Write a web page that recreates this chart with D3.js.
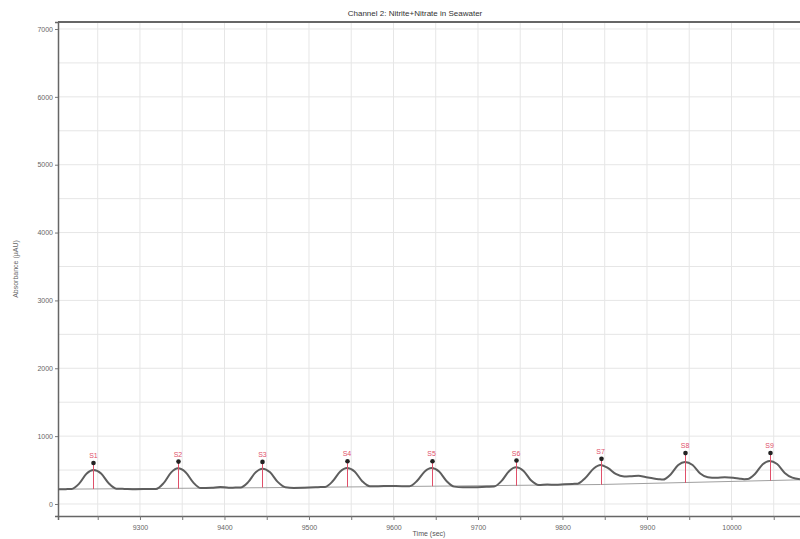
<!DOCTYPE html>
<html>
<head>
<meta charset="utf-8">
<script src="https://cdn.jsdelivr.net/npm/d3@7"></script>
<style>
  body { margin: 0; background: #fff; }
  svg { font-family: "Liberation Sans", Arial, sans-serif; }
</style>
</head>
<body>
<svg id="chart" width="800" height="539"></svg>
<script>
// trace: [time (sec), absorbance (uAU)]
var trace = [
  [9203,216],[9212,219],[9219,221],[9228,300],[9237,450],[9245,500],[9254,448],[9263,305],[9272,226],
  [9282,222],[9295,218],[9308,220],
  [9319,222],[9328,308],[9337,466],[9345,525],[9354,468],[9363,318],[9372,234],
  [9385,240],[9395,250],[9405,240],[9413,242],
  [9419,243],[9428,322],[9437,468],[9445,520],[9454,466],[9463,326],[9472,248],
  [9482,236],[9495,238],[9508,245],[9514,250],
  [9519,252],[9528,334],[9537,478],[9545,530],[9554,478],[9563,336],[9572,262],
  [9582,262],[9595,266],[9610,262],
  [9619,262],[9628,342],[9637,480],[9645,530],[9654,478],[9663,336],[9672,256],
  [9682,248],[9695,248],[9710,254],
  [9719,257],[9728,340],[9737,487],[9745,540],[9754,487],[9763,345],[9772,280],
  [9782,286],[9792,282],[9802,290],[9812,296],
  [9818,299],[9827,384],[9837,524],[9845,575],[9854,528],[9863,442],
  [9873,405],[9882,410],[9890,416],[9898,398],[9908,376],[9914,366],
  [9919,360],[9928,436],[9937,574],[9945,620],[9954,574],[9963,450],[9972,394],
  [9982,386],[9992,394],[10002,388],[10010,372],[10015,366],
  [10019,368],[10028,446],[10037,586],[10045,635],[10054,588],[10063,458],[10072,388],[10081,366]
];

// baseline drawn under the peaks
var baseline = [[9203,218],[9445,240],[9645,262],[9845,287],[10081,356]];

// detected peaks
var peakNames = ["S1","S2","S3","S4","S5","S6","S7","S8","S9"];
var peakTimes = [9245, 9345, 9445, 9545, 9645, 9745, 9845, 9945, 10045];
var peakBase = [221, 224, 241, 251, 262, 268, 284, 310, 345];
var peakMark = [605, 625, 620, 630, 630, 640, 665, 750, 752];

var yTicks = [0, 1000, 2000, 3000, 4000, 5000, 6000, 7000];
var xTicks = [9300, 9400, 9500, 9600, 9700, 9800, 9900, 10000];

var svg = d3.select("#chart"),
  margin = {top: 22, left: 58, bottom: 23, right: -5},
  width = +svg.attr("width") - margin.left - margin.right,
  height = +svg.attr("height") - margin.top - margin.bottom;

var x = d3.scaleLinear().domain([9203, 10087]).range([0, width]);
var y = d3.scaleLinear().domain([-177, 7103]).range([height, 0]);

var g = svg.append("g").attr("transform", "translate(" + margin.left + "," + margin.top + ")");

// grid
g.append("g")
  .selectAll("line")
  .data(d3.range(9250, 10087, 50))
  .enter().append("line")
  .attr("x1", d => x(d)).attr("x2", d => x(d))
  .attr("y1", 0).attr("y2", height)
  .attr("stroke", "#e6e6e6").attr("stroke-width", 1);

g.append("g")
  .selectAll("line")
  .data(d3.range(0, 7001, 500))
  .enter().append("line")
  .attr("x1", 0).attr("x2", width)
  .attr("y1", d => y(d)).attr("y2", d => y(d))
  .attr("stroke", "#e6e6e6").attr("stroke-width", 1);

// axes
var yAxis = g.append("g")
  .call(d3.axisLeft(y).tickValues(yTicks).tickSize(3).tickPadding(2).tickFormat(d3.format("d")));
var xAxis = g.append("g")
  .attr("transform", "translate(0," + height + ")")
  .call(d3.axisBottom(x).tickValues(d3.range(9250, 10087, 50)).tickSize(4).tickPadding(5)
    .tickFormat(d => xTicks.indexOf(d) >= 0 ? d : ""));

[yAxis, xAxis].forEach(function(a){
  a.select(".domain").attr("stroke", "#666").attr("stroke-width", 1.5);
  a.selectAll(".tick line").attr("stroke", "#777");
  a.selectAll("text").attr("fill", "#666").style("font-size", "7px");
});

// top frame
g.append("line")
  .attr("x1", 0).attr("x2", width).attr("y1", 0).attr("y2", 0)
  .attr("stroke", "#666").attr("stroke-width", 2);

// baseline
g.append("path")
  .datum(baseline)
  .attr("d", d3.line().x(d => x(d[0])).y(d => y(d[1])))
  .attr("fill", "none")
  .attr("stroke", "#a0a0a0")
  .attr("stroke-width", 1);

// trace
g.append("path")
  .datum(trace)
  .attr("d", d3.line().x(d => x(d[0])).y(d => y(d[1])).curve(d3.curveMonotoneX))
  .attr("fill", "none")
  .attr("stroke", "#5e5e5e")
  .attr("stroke-width", 2);

// red peak lines
g.append("g")
  .selectAll("line")
  .data(peakTimes)
  .enter().append("line")
  .attr("x1", d => Math.round(x(d)) + 0.5).attr("x2", d => Math.round(x(d)) + 0.5)
  .attr("y1", (d, i) => y(peakBase[i]))
  .attr("y2", (d, i) => y(peakMark[i]))
  .attr("stroke", "#e0506a")
  .attr("stroke-width", 1);

// markers
g.append("g")
  .selectAll("circle")
  .data(peakTimes)
  .enter().append("circle")
  .attr("cx", d => Math.round(x(d)) + 0.5)
  .attr("cy", (d, i) => y(peakMark[i]))
  .attr("r", 2.3)
  .attr("fill", "#222");

// peak labels
g.append("g")
  .selectAll("text")
  .data(peakTimes)
  .enter().append("text")
  .attr("x", d => x(d))
  .attr("y", (d, i) => y(peakMark[i]) - 5)
  .attr("text-anchor", "middle")
  .attr("fill", "#e0506a")
  .style("font-size", "7px")
  .text((d, i) => peakNames[i]);

// titles
svg.append("text")
  .attr("x", 415).attr("y", 16)
  .attr("text-anchor", "middle")
  .attr("fill", "#333")
  .style("font-size", "8px")
  .text("Channel 2: Nitrite+Nitrate in Seawater");

svg.append("text")
  .attr("x", 429).attr("y", 536)
  .attr("text-anchor", "middle")
  .attr("fill", "#555")
  .style("font-size", "7px")
  .text("Time (sec)");

svg.append("text")
  .attr("transform", "translate(18," + (margin.top + height / 2) + ") rotate(-90)")
  .attr("text-anchor", "middle")
  .attr("fill", "#666")
  .style("font-size", "7px")
  .text("Absorbance (µAU)");
</script>
</body>
</html>
